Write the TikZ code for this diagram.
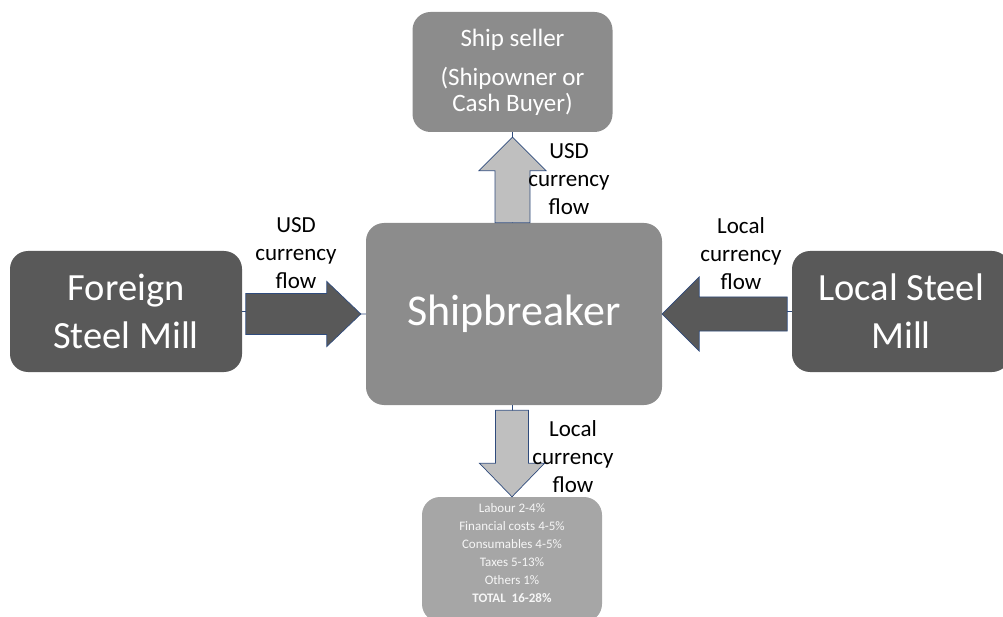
\documentclass[tikz,border=0pt]{standalone}
\usepackage{fontspec}
\setmainfont{Carlito}
\usetikzlibrary{positioning}
\definecolor{darkmill}{HTML}{595959}
\definecolor{midbox}{HTML}{8C8C8C}
\definecolor{lightbox}{HTML}{A6A6A6}
\definecolor{paleflow}{HTML}{BFBFBF}
\definecolor{edgeblue}{HTML}{2F4B7C}

\begin{document}
\begin{tikzpicture}[x=1pt,y=-1pt,
		box/.style={rounded corners=18pt, inner sep=0pt, align=center, text=white},
		flow/.style={draw=edgeblue, line width=0.7pt, line join=miter},
		link/.style={draw=edgeblue, line width=0.7pt},
		flowtext/.style={align=center, font=\fontsize{23}{28}\selectfont}]
				\useasboundingbox (0,0) rectangle (1003,617);
				%Nodes
				\node[box, fill=midbox, minimum width=200pt, minimum height=120pt,
					font=\fontsize{25}{26}\selectfont] (seller) at (512.5,72)
					{Ship seller\\[13pt](Shipowner or\\Cash Buyer)};
				\node[box, fill=midbox, minimum width=296pt, minimum height=182pt,
					font=\fontsize{44}{48}\selectfont] (breaker) at (514,314) {Shipbreaker};
				\node[box, fill=darkmill, minimum width=232pt, minimum height=121pt,
					font=\fontsize{38.5}{48}\selectfont] (foreign) at (126,311.5) {Foreign\\Steel Mill};
				\node[box, fill=darkmill, minimum width=218pt, minimum height=121pt,
					font=\fontsize{38.5}{48}\selectfont] (local) at (901,311.5) {Local Steel\\Mill};
				\node[box, fill=lightbox, minimum width=180pt, minimum height=125pt] (costs) at (512,559.5) {};
				\node[align=center, text=white!90!lightbox, font=\fontsize{13}{18}\selectfont] (costlist) at (512,553)
					{Labour 2-4\%\\Financial costs 4-5\%\\Consumables 4-5\%\\Taxes 5-13\%\\Others 1\%\\\textbf{TOTAL\ \ 16-28\%}};

				%Lines
				\draw[link] (breaker.north -| seller.south) -- (seller.south);
				\draw[link] (breaker.south -| costs.north) -- (costs.north);
				\draw[link] (foreign.east) -- (breaker.west);
				\draw[link] (local.west) -- (breaker.east);

				%Arrows
				\draw[flow, fill=paleflow] ([yshift=-5pt]seller.south) -- ++(-33.5,33.5) -- ++(16,0) -- ++(0,52)
					-- ++(35,0) -- ++(0,-52) -- ++(16,0) -- cycle;
				\draw[flow, fill=paleflow] (costs.north) -- ++(-32.5,-33.5) -- ++(16,0) -- ++(0,-53)
					-- ++(33,0) -- ++(0,53) -- ++(16,0) -- cycle;
				\draw[flow, fill=darkmill] ([xshift=-5pt]breaker.west) -- ++(-34,-32.5) -- ++(0,12) -- ++(-81,0)
					-- ++(0,41) -- ++(81,0) -- ++(0,12) -- cycle;
				\draw[flow, fill=darkmill] (breaker.east) -- ++(37,-37) -- ++(0,20) -- ++(88,0)
					-- ++(0,34) -- ++(-88,0) -- ++(0,20) -- cycle;

				%Labels
				\node[flowtext] (usdtop) at (569,179) {USD\\currency\\flow};
				\node[flowtext] (localbottom) at (573,457) {Local\\currency\\flow};
				\node[flowtext] (usdleft) at (296,253) {USD\\currency\\flow};
				\node[flowtext] (localright) at (741,254) {Local\\currency\\flow};
		\end{tikzpicture}
\end{document}
